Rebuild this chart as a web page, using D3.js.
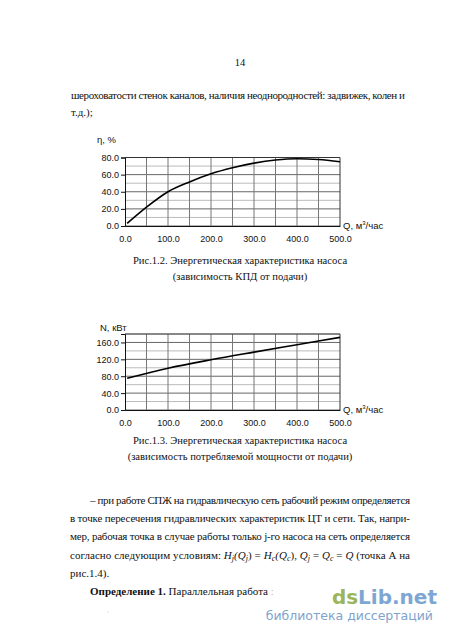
<!DOCTYPE html>
<html>
<head>
<meta charset="utf-8">
<script src="https://cdn.jsdelivr.net/npm/d3@7"></script>
<style>
  body { margin: 0; background: #fff; }
  .serif { font-family: "Liberation Serif", "Times New Roman", serif; font-size: 11px; fill: #111; }
  .sans { font-family: "Liberation Sans", Arial, sans-serif; font-size: 9px; fill: #111; }
</style>
</head>
<body>
<script>
// Data: efficiency curve (Рис.1.2)
var qEff = [5, 50, 100, 150, 200, 250, 300, 350, 400, 450, 500];
var effValues = [3, 22, 40, 51.5, 61, 68, 73.4, 77, 78.5, 77.6, 75];
// Data: power curve (Рис.1.3)
var qPow = [5, 100, 200, 300, 400, 500];
var powValues = [75, 99, 119, 137, 154.5, 172];
// Tick labels
var xTicks = [0, 100, 200, 300, 400, 500];
var effTicks = [0, 20, 40, 60, 80];
var powTicks = [0, 40, 80, 120, 160];

var W = 450, H = 636;
var svg = d3.select("body").append("svg")
  .attr("width", W)
  .attr("height", H);

// Page text
svg.append("text").attr("class", "serif").attr("x", 240).attr("y", 66)
  .attr("text-anchor", "middle").style("font-size", "10.5px").text("14");

svg.append("text").attr("class", "serif").attr("x", 71).attr("y", 99)
  .attr("textLength", 334).attr("lengthAdjust", "spacing")
  .text("шероховатости стенок каналов, наличия неоднородностей: задвижек, колен и");
svg.append("text").attr("class", "serif").attr("x", 71).attr("y", 116).text("т.д.);");

// Chart function
function drawChart(opts) {
  var x = d3.scaleLinear().domain([0, 500]).range([125, 340]);
  var y = d3.scaleLinear().domain([0, opts.yMax]).range([opts.bottom, opts.top]);
  var g = svg.append("g");

  // minor horizontal grid
  g.selectAll(".hminor")
    .data(d3.range(0, opts.yMax + 0.01, opts.minor))
    .enter().append("line")
    .attr("x1", x(0)).attr("x2", x(500))
    .attr("y1", function (d) { return y(d); })
    .attr("y2", function (d) { return y(d); })
    .attr("stroke", function (d) { return (d % opts.major === 0) ? "#666" : "#bbb"; })
    .attr("stroke-width", 1);

  // vertical grid
  g.selectAll(".vgrid")
    .data(d3.range(50, 501, 50))
    .enter().append("line")
    .attr("x1", function (d) { return x(d); })
    .attr("x2", function (d) { return x(d); })
    .attr("y1", y(0)).attr("y2", y(opts.yMax))
    .attr("stroke", function (d) { return d === 500 ? "#333" : "#777"; })
    .attr("stroke-width", 1);

  // top border
  g.append("line").attr("x1", x(0)).attr("x2", x(500))
    .attr("y1", y(opts.yMax)).attr("y2", y(opts.yMax))
    .attr("stroke", "#333");

  // axes
  var xAxis = g.append("g")
    .attr("transform", "translate(0," + y(0) + ")")
    .call(d3.axisBottom(x).tickValues(xTicks).tickSize(0).tickPadding(10)
      .tickFormat(function (d) { return d.toFixed(1); }));
  xAxis.select(".domain").attr("stroke", "#111");
  xAxis.selectAll("text").attr("class", "sans").attr("font-family", null).attr("font-size", null);

  var yAxis = g.append("g")
    .attr("transform", "translate(" + x(0) + ",0)")
    .call(d3.axisLeft(y).tickValues(opts.ticks).tickSize(4).tickPadding(2)
      .tickFormat(function (d) { return d.toFixed(1); }));
  yAxis.select(".domain").attr("stroke", "#111");
  yAxis.selectAll("line").attr("stroke", "#111");
  yAxis.selectAll("text").attr("class", "sans").attr("font-family", null).attr("font-size", null);

  // curve
  var line = d3.line()
    .x(function (d) { return x(d[0]); })
    .y(function (d) { return y(d[1]); })
    .curve(d3.curveMonotoneX);
  g.append("path")
    .datum(d3.zip(opts.xs, opts.ys))
    .attr("d", line)
    .attr("fill", "none")
    .attr("stroke", "#000")
    .attr("stroke-width", 1.6);

  // axis titles
  g.append("text").attr("class", "sans").attr("x", opts.yLabelX).attr("y", opts.yLabelY)
    .style("font-size", "9.5px").text(opts.yLabel);
  var ql = g.append("text").attr("class", "sans").attr("x", 343).attr("y", y(0) + 3)
    .style("font-size", "9.5px");
  ql.append("tspan").text("Q, м");
  ql.append("tspan").attr("dy", -4).style("font-size", "6px").text("3");
  ql.append("tspan").attr("dy", 4).text("/час");

  // captions
  svg.append("text").attr("class", "serif").attr("x", 240).attr("y", opts.cap1)
    .attr("text-anchor", "middle").style("font-size", "10.6px").text(opts.caption1);
  svg.append("text").attr("class", "serif").attr("x", 240).attr("y", opts.cap1 + 15.5)
    .attr("text-anchor", "middle").style("font-size", "10.6px").text(opts.caption2);
}

drawChart({
  xs: qEff, ys: effValues, yMax: 80, minor: 10, major: 20, ticks: effTicks,
  top: 157.5, bottom: 226, yLabel: "η, %", yLabelX: 97, yLabelY: 143,
  cap1: 264, caption1: "Рис.1.2. Энергетическая характеристика насоса",
  caption2: "(зависимость КПД от подачи)"
});

drawChart({
  xs: qPow, ys: powValues, yMax: 180, minor: 20, major: 40, ticks: powTicks,
  top: 334, bottom: 410, yLabel: "N, кВт", yLabelX: 100, yLabelY: 331,
  cap1: 444, caption1: "Рис.1.3. Энергетическая характеристика насоса",
  caption2: "(зависимость потребляемой мощности от подачи)"
});

// Lower body text
var bodyLines = [
  { x: 90, y: 504, w: 320, t: "– при работе СПЖ на гидравлическую сеть рабочий режим определяется" },
  { x: 70, y: 522, w: 340, t: "в точке пересечения гидравлических характеристик ЦТ и сети. Так, напри-" },
  { x: 70, y: 540, w: 340, t: "мер, рабочая точка в случае работы только j-го насоса на сеть определяется" }
];
bodyLines.forEach(function (l) {
  svg.append("text").attr("class", "serif").attr("x", l.x).attr("y", l.y)
    .attr("textLength", l.w).attr("lengthAdjust", "spacing").text(l.t);
});

var f = svg.append("text").attr("class", "serif").attr("x", 70).attr("y", 559)
  .attr("textLength", 340).attr("lengthAdjust", "spacing");
var parts = [
  ["согласно следующим условиям: ", 0, "normal"],
  ["H", 0, "italic"], ["j", 2, "italic"], ["(", -2, "italic"], ["Q", 0, "italic"], ["j", 2, "italic"],
  [") = ", -2, "normal"], ["H", 0, "italic"], ["c", 2, "italic"], ["(", -2, "italic"], ["Q", 0, "italic"], ["c", 2, "italic"],
  ["), ", -2, "normal"], ["Q", 0, "italic"], ["j", 2, "italic"], [" = ", -2, "normal"], ["Q", 0, "italic"], ["c", 2, "italic"],
  [" = ", -2, "normal"], ["Q", 0, "italic"], [" (точка А на", 0, "normal"]
];
parts.forEach(function (p) {
  var ts = f.append("tspan").attr("dy", p[1]).style("font-style", p[2]).text(p[0]);
  if (p[1] === 2) ts.style("font-size", "8px");
});

svg.append("text").attr("class", "serif").attr("x", 70).attr("y", 577).text("рис.1.4).");

var def = svg.append("text").attr("class", "serif").attr("x", 90).attr("y", 595);
def.append("tspan").style("font-weight", "bold").text("Определение 1.");
def.append("tspan").text(" Параллельная работа ");
def.append("tspan").style("fill", "#bbb").text(":");

// Watermark
var wm = svg.append("text").attr("x", 437).attr("y", 604).attr("text-anchor", "end")
  .style("font-family", "'DejaVu Sans', Arial, sans-serif")
  .style("font-weight", "bold").style("font-size", "20px");
wm.append("tspan").style("fill", "#9bb55a").text("ds");
wm.append("tspan").style("fill", "#7ea6d2").text("Lib.net");
svg.append("text").attr("x", 433).attr("y", 620).attr("text-anchor", "end")
  .style("font-family", "'DejaVu Sans', Arial, sans-serif")
  .style("font-size", "12.5px").style("fill", "#7fa3cc")
  .text("библиотека диссертаций");

svg.append("circle").attr("cx", 108).attr("cy", 612).attr("r", 0.6).attr("fill", "#ccc");
</script>
</body>
</html>
